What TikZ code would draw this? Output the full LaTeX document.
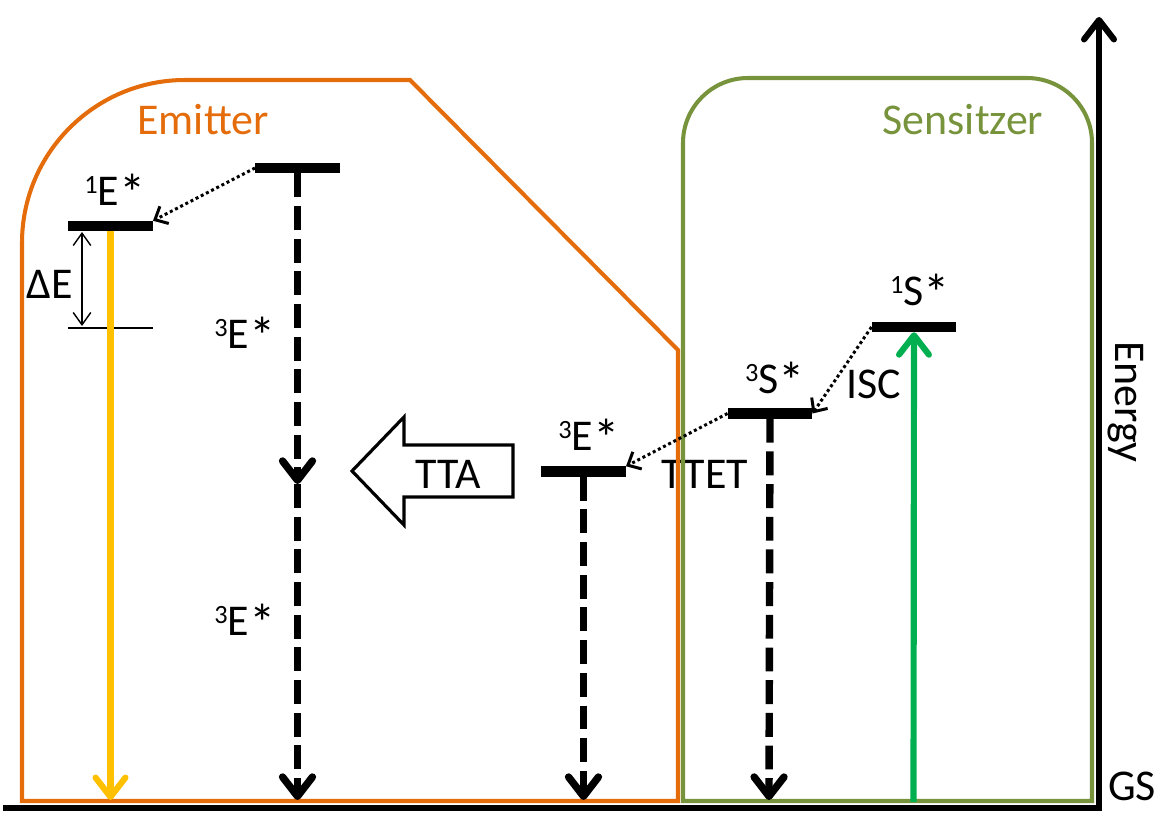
\documentclass[tikz,border=0pt]{standalone}
\usepackage{fontspec}
\setmainfont{Carlito}
\usetikzlibrary{arrows.meta}
\definecolor{emit}{RGB}{228,108,10}
\definecolor{sens}{RGB}{119,147,60}
\definecolor{yel}{RGB}{255,192,0}
\definecolor{grn}{RGB}{0,176,80}
\newcommand\hi[1]{\raisebox{6.5pt}{\fontsize{15}{15}\selectfont #1}}
\newcommand\st{\raisebox{-3.5pt}{\fontsize{30}{30}\selectfont *}}
\begin{document}
\begin{tikzpicture}[x=0.02cm,y=-0.02cm,
  every node/.style={font=\fontsize{25}{30}\selectfont, inner sep=0pt, outer sep=0pt},
  lvl/.style={fill=black, minimum width=1.7cm, minimum height=0.21cm, inner sep=0pt, outer sep=0pt},
  dsh/.style={line width=4.2pt, dash pattern=on 13.6pt off 5pt, -{Straight Barb[length=11pt,width=17pt,round]}},
  solidarr/.style={line width=3.5pt, -{Straight Barb[length=11pt,width=17pt,round]}},
  dot/.style={line width=1.7pt, dash pattern=on 1.7pt off 1.6pt, -{Straight Barb[length=6pt,width=11pt]}},
  boxline/.style={line width=2.3pt}]
\useasboundingbox (0,0) rectangle (1157,812);

% text crossed by the box lines
\node[anchor=base] (ttet) at (705,488) {TTET};

% boxes
\draw[boxline, emit] (678,801) -- (22,801) -- (22,243)
   arc[start angle=180, end angle=270, radius=163] -- (410,80) -- (678,350) -- cycle;
\draw[boxline, sens] (683,801) -- (683,143)
   arc[start angle=180, end angle=270, radius=65] -- (1027,78)
   arc[start angle=270, end angle=360, radius=65] -- (1092,801) -- cycle;

\node[anchor=base, text=emit] (emitter) at (203,134) {Emitter};
\node[anchor=base, text=sens] (sensitzer) at (963,134) {Sensitzer};

% axes
\coordinate (bl) at (3,808);
\coordinate (br) at (1102,808);
\coordinate (axb) at (1099,810);
\coordinate (axt) at (1099,17);
\draw[line width=3.4pt] (bl) -- (br);
\draw[solidarr] (axb) -- (axt);
\node[rotate=-90] (energy) at (1126,402) {Energy};
\node[anchor=base] (gs) at (1132,800) {GS};

% levels
\node[lvl] (E1) at (110.5,226) {};
\node[lvl] (Eh) at (297.5,168) {};
\node[lvl] (E3) at (583.5,471.5) {};
\node[lvl] (S3) at (770,413.5) {};
\node[lvl] (S1) at (914,327) {};

% labels
\node[anchor=base] (lE1) at (115,205) {\hi{1}E\st};
\node[anchor=base] (dE) at (50,298) {ΔE};
\node[anchor=base] (lEa) at (245,348) {\hi{3}E\st};
\node[anchor=base] (lEb) at (245,635) {\hi{3}E\st};
\node[anchor=base] (lE3) at (589,450) {\hi{3}E\st};
\node[anchor=base] (lS3) at (775,393) {\hi{3}S\st};
\node[anchor=base] (lS1) at (920,305) {\hi{1}S\st};
\node[anchor=base] (isc) at (874,398) {ISC};

% Delta E
\coordinate (dl) at (68,328);
\coordinate (dr) at (153,328);
\coordinate (dt) at (82,232);
\coordinate (db) at (82,326);
\draw[line width=0.8pt] (dl) -- (dr);
\draw[line width=0.8pt, {Straight Barb[length=7pt,width=10pt]}-{Straight Barb[length=7pt,width=10pt]}] (dt) -- (db);

% vertical transitions
\coordinate (yg) at (110.5,800);
\draw[solidarr, yel] (E1.south) -- (yg);
\coordinate (Em) at (297.5,484);
\coordinate (Eg) at (297.5,800);
\draw[dsh] (Eh.south) -- (Em);
\draw[dsh] (Em) -- (Eg);
\coordinate (E3g) at (583.5,800);
\draw[dsh] (E3.south) -- (E3g);
\coordinate (S3g) at (769,800);
\draw[dsh] (S3.south) -- (S3g);
\coordinate (gg) at (913.5,802);
\draw[solidarr, grn] (gg) -- (S1.south);

% dotted transfers
\draw[dot] (Eh.west) -- (E1.north east);
\draw[dot] (S3.west) -- (E3.north east);
\draw[dot] (S1.west) -- (S3.east);

% TTA block arrow
\draw[line width=1.8pt, line join=miter] (352,471) -- (404,417) -- (404,445) -- (513,445)
   -- (513,497) -- (404,497) -- (404,525) -- cycle;
\node[anchor=base] (tta) at (448,488) {TTA};
\end{tikzpicture}
\end{document}
